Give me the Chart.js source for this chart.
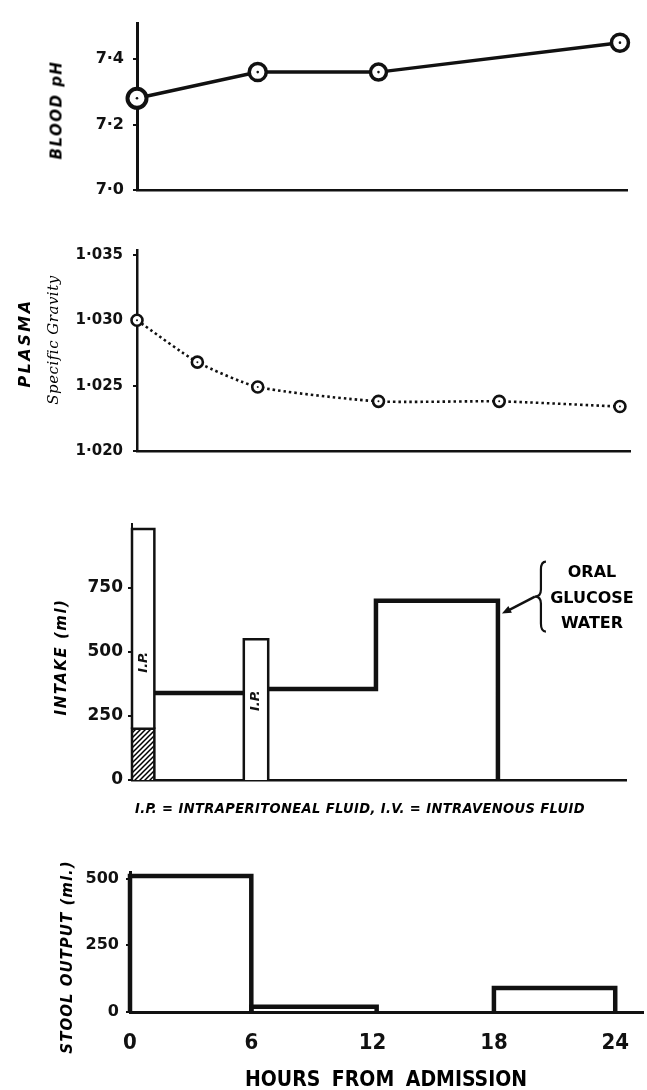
<!DOCTYPE html>
<html><head><meta charset="utf-8">
<script src="https://cdn.jsdelivr.net/npm/chart.js@4.4.1/dist/chart.umd.min.js"></script>
<style>
html,body{margin:0;padding:0;background:#fff;}
#wrap{position:relative;width:647px;height:1090px;background:#fff;overflow:hidden;font-family:"DejaVu Sans",sans-serif;color:#000;}
canvas{position:absolute;left:0;}
.vt{position:absolute;transform:translate(-50%,-50%) rotate(-90deg);white-space:nowrap;font-weight:bold;font-style:italic;line-height:1;}
.txt{position:absolute;white-space:nowrap;font-weight:bold;line-height:1;transform:translate(-50%,-50%);}
</style></head><body>
<div id="wrap">
<canvas id="c1" width="647" height="230" style="top:0px"></canvas>
<canvas id="c2" width="647" height="240" style="top:230px"></canvas>
<canvas id="c3" width="647" height="320" style="top:480px"></canvas>
<canvas id="c4" width="647" height="250" style="top:840px"></canvas>

<div class="vt" style="left:57px;top:110px;font-size:15px;letter-spacing:1.5px">BLOOD pH</div>
<div class="vt" style="left:25px;top:343px;font-size:16px;letter-spacing:2.5px">PLASMA</div>
<div class="vt" style="left:53px;top:340px;font-size:15px;font-weight:normal;font-family:'DejaVu Serif',serif;letter-spacing:0.5px">Specific Gravity</div>
<div class="vt" style="left:61px;top:657px;font-size:15px;letter-spacing:1.5px">INTAKE (ml)</div>
<div class="vt" style="left:67px;top:957px;font-size:15px;letter-spacing:1px">STOOL OUTPUT (ml.)</div>

<div class="txt" style="left:360px;top:808px;font-size:14.5px;font-style:italic;font-family:'Liberation Sans Narrow','DejaVu Sans Condensed',sans-serif;letter-spacing:0.4px">I.P. = INTRAPERITONEAL FLUID, I.V. = INTRAVENOUS FLUID</div>
<div class="txt" style="left:592px;top:572px;font-size:16px">ORAL</div>
<div class="txt" style="left:592px;top:598px;font-size:16px">GLUCOSE</div>
<div class="txt" style="left:592px;top:623px;font-size:16px">WATER</div>
<div class="txt" style="left:386px;top:1079px;font-size:21px;font-family:'Liberation Sans Narrow','DejaVu Sans Condensed',sans-serif;word-spacing:5px;letter-spacing:0px">HOURS FROM ADMISSION</div>
</div>
<script>
// ---------------- DATA ----------------
// Blood pH
const phHours = [0, 6, 12, 24];
const phValues = [7.28, 7.36, 7.36, 7.45];
const phTicks = [7.0, 7.2, 7.4];
const phTickLabels = ['7·0', '7·2', '7·4'];

// Plasma specific gravity
const sgHours = [0, 3, 6, 12, 18, 24];
const sgValues = [1.0300, 1.0268, 1.0249, 1.0238, 1.0238, 1.0234];
const sgTicks = [1.020, 1.025, 1.030, 1.035];
const sgTickLabels = ['1·020', '1·025', '1·030', '1·035'];

// Intake (ml)
const ivStart = [0];
const ivEnd = [1.1];
const ivVolume = [200];
const ipStart = [0, 5.5];
const ipEnd = [1.1, 6.7];
const ipBase = [200, 0];
const ipTop = [980, 550];
const ipLabelY = [460, 310];
const oralHours = [1.1, 5.5, 6.1, 6.7, 12, 12, 18, 18];
const oralVolumes = [340, 340, null, 355, 355, 700, 700, 0];
const intakeTicks = [0, 250, 500, 750];
const intakeTickLabels = ['0', '250', '500', '750'];

// Stool output (ml)
const stoolStart = [0, 6, 18];
const stoolEnd = [6, 12.2, 24];
const stoolVolume = [510, 20, 90];
const stoolTicks = [0, 250, 500];
const stoolTickLabels = ['0', '250', '500'];

// Hours axis
const hourTicks = [0, 6, 12, 18, 24];
const hourTickLabels = ['0', '6', '12', '18', '24'];

// --------------- HELPERS ---------------
const BLACK = '#111';
function rect(s, e, lo, hi) {
  return [{x: s, y: lo}, {x: s, y: hi}, {x: e, y: hi}, {x: e, y: lo}];
}
function pts(xs, ys) { return xs.map((x, i) => ({x: x, y: ys[i]})); }
function hatch() {
  const c = document.createElement('canvas'); c.width = c.height = 5;
  const g = c.getContext('2d');
  g.fillStyle = '#fff'; g.fillRect(0, 0, 5, 5);
  g.strokeStyle = '#000'; g.lineWidth = 1.5;
  g.beginPath();
  g.moveTo(-1, 6); g.lineTo(6, -1);
  g.moveTo(-1, 1); g.lineTo(1, -1);
  g.moveTo(4, 6); g.lineTo(6, 4);
  g.stroke();
  return g.createPattern(c, 'repeat');
}
const FONT = '"DejaVu Sans", sans-serif';
const NARROW = '"Liberation Sans Narrow", "DejaVu Sans Condensed", sans-serif';

function yAxis(min, max, ticks, labels, width, fontSize, pad, bw) {
  return {
    type: 'linear', min: min, max: max,
    afterBuildTicks: s => { s.ticks = ticks.map(v => ({value: v})); },
    afterFit: s => { s.width = width; },
    ticks: {
      color: BLACK, padding: pad, autoSkip: false,
      font: {family: FONT, size: fontSize, weight: 'bold'},
      callback: (v, i) => labels[i]
    },
    grid: {display: true, drawOnChartArea: false, drawTicks: true, tickLength: 4, color: BLACK, lineWidth: 2},
    border: {display: true, color: BLACK, width: bw}
  };
}
function xAxisPlain(max, height, bw) {
  return {
    type: 'linear', min: 0, max: max,
    afterFit: s => { s.height = height; },
    ticks: {display: false},
    grid: {display: false},
    border: {display: true, color: BLACK, width: bw}
  };
}
const baseOpts = {
  responsive: false, animation: false, devicePixelRatio: 1,
  plugins: {legend: {display: false}, tooltip: {enabled: false}}
};

// --------------- CHART 1: Blood pH ---------------
new Chart(document.getElementById('c1'), {
  type: 'line',
  data: {datasets: [
    {data: pts(phHours, phValues), showLine: false, clip: false, pointRadius: 1.3, pointBackgroundColor: BLACK, pointBorderWidth: 0},
    {data: pts(phHours, phValues), clip: false, borderColor: BLACK, borderWidth: 3.5, tension: 0,
     pointRadius: [9.5, 8.5, 8, 8.5], pointBorderWidth: [4, 3.5, 3.5, 3.5], pointBackgroundColor: '#fff', pointBorderColor: BLACK}
  ]},
  options: Object.assign({}, baseOpts, {
    layout: {padding: {top: 23, right: 20, left: 0, bottom: 0}},
    scales: {
      x: xAxisPlain(24.35, 40, 2.5),
      y: yAxis(7.0, 7.51, phTicks, phTickLabels, 137, 16, 9, 3)
    }
  })
});

// --------------- CHART 2: Plasma SG ---------------
new Chart(document.getElementById('c2'), {
  type: 'line',
  data: {datasets: [
    {data: pts(sgHours, sgValues), showLine: false, clip: false, pointRadius: 1, pointBackgroundColor: BLACK, pointBorderWidth: 0},
    {data: pts(sgHours, sgValues), clip: false, borderColor: BLACK, borderWidth: 2.6, borderDash: [2.5, 3], tension: 0.2,
     pointRadius: 5.5, pointBorderWidth: 2.6, pointBackgroundColor: '#fff', pointBorderColor: BLACK}
  ]},
  options: Object.assign({}, baseOpts, {
    layout: {padding: {top: 20, right: 17, left: 0, bottom: 0}},
    scales: {
      x: xAxisPlain(24.5, 17, 2.5),
      y: yAxis(1.020, 1.03538, sgTicks, sgTickLabels, 137, 15, 10, 2.5)
    }
  })
});

// --------------- CHART 3: Intake ---------------
const annotate3 = {
  id: 'annotate3',
  afterDatasetsDraw(chart) {
    const ctx = chart.ctx, xs = chart.scales.x, ys = chart.scales.y;
    ctx.save();
    ctx.fillStyle = BLACK; ctx.strokeStyle = BLACK;
    // I.P. labels inside bars
    ctx.font = 'italic bold 13px ' + FONT;
    ctx.textAlign = 'center'; ctx.textBaseline = 'middle';
    ipStart.forEach((s, i) => {
      const px = xs.getPixelForValue((s + ipEnd[i]) / 2);
      const py = ys.getPixelForValue(ipLabelY[i]);
      ctx.save(); ctx.translate(px, py); ctx.rotate(-Math.PI / 2);
      ctx.fillText('I.P.', 0, 0); ctx.restore();
    });
    // arrow pointing at oral step (18 h, ~650 ml)
    const tx = xs.getPixelForValue(18) + 4, ty = ys.getPixelForValue(650);
    const sx = tx + 33, sy = ty - 17;
    ctx.lineWidth = 2.5;
    ctx.beginPath(); ctx.moveTo(sx, sy); ctx.lineTo(tx + 6, ty - 3); ctx.stroke();
    const ang = Math.atan2(ty - sy, tx - sx);
    ctx.beginPath();
    ctx.moveTo(tx, ty);
    ctx.lineTo(tx - 10 * Math.cos(ang - 0.4), ty - 10 * Math.sin(ang - 0.4));
    ctx.lineTo(tx - 10 * Math.cos(ang + 0.4), ty - 10 * Math.sin(ang + 0.4));
    ctx.closePath(); ctx.fill();
    // brace
    const bx = sx + 6, by = sy;
    ctx.lineWidth = 2.2;
    ctx.beginPath();
    ctx.moveTo(bx + 5, by - 35);
    ctx.quadraticCurveTo(bx, by - 35, bx, by - 27);
    ctx.lineTo(bx, by - 7);
    ctx.quadraticCurveTo(bx, by, bx - 6, by);
    ctx.quadraticCurveTo(bx, by, bx, by + 7);
    ctx.lineTo(bx, by + 27);
    ctx.quadraticCurveTo(bx, by + 35, bx + 5, by + 35);
    ctx.stroke();
    ctx.restore();
  }
};
const ipSets = ipStart.map((s, i) => ({
  data: rect(s, ipEnd[i], ipBase[i], ipTop[i]), clip: false,
  borderColor: BLACK, borderWidth: 2.5, tension: 0, pointRadius: 0,
  fill: {value: ipBase[i]}, backgroundColor: '#fff', borderJoinStyle: 'miter'
}));
const ivSets = ivStart.map((s, i) => ({
  data: rect(s, ivEnd[i], 0, ivVolume[i]), clip: false,
  borderColor: BLACK, borderWidth: 2.5, tension: 0, pointRadius: 0,
  fill: 'origin', backgroundColor: hatch(), borderJoinStyle: 'miter'
}));
new Chart(document.getElementById('c3'), {
  type: 'line',
  data: {datasets: [].concat(ivSets, ipSets, [{
    data: pts(oralHours, oralVolumes), borderColor: BLACK, borderWidth: 4.5, clip: false,
    tension: 0, pointRadius: 0, spanGaps: false, borderJoinStyle: 'miter', fill: false
  }])},
  options: Object.assign({}, baseOpts, {
    layout: {padding: {top: 44, right: 21, left: 0, bottom: 0}},
    scales: {
      x: xAxisPlain(24.3, 20, 2.5),
      y: yAxis(0, 1000, intakeTicks, intakeTickLabels, 132, 17, 5, 2)
    }
  }),
  plugins: [annotate3]
});

// --------------- CHART 4: Stool output ---------------
new Chart(document.getElementById('c4'), {
  type: 'line',
  data: {datasets: stoolStart.map((s, i) => ({
    data: rect(s, stoolEnd[i], 0, stoolVolume[i]), clip: false,
    borderColor: BLACK, borderWidth: 4.5, tension: 0, pointRadius: 0,
    fill: false, borderJoinStyle: 'miter'
  }))},
  options: Object.assign({}, baseOpts, {
    layout: {padding: {top: 32, right: 0, left: 0, bottom: 0}},
    scales: {
      x: {
        type: 'linear', min: 0, max: 25.4,
        afterBuildTicks: s => { s.ticks = hourTicks.map(v => ({value: v})); },
        afterFit: s => { s.height = 78; },
        ticks: {color: BLACK, padding: 18, autoSkip: false, maxRotation: 0,
          font: {family: NARROW, size: 22, weight: 'bold'},
          callback: (v, i) => hourTickLabels[i]},
        grid: {display: false, drawTicks: false},
        border: {display: true, color: BLACK, width: 3}
      },
      y: yAxis(0, 525, stoolTicks, stoolTickLabels, 130, 16, 7, 3)
    }
  })
});
</script>
</body></html>
